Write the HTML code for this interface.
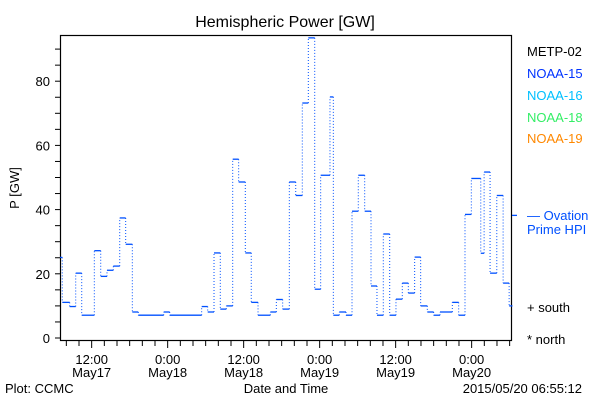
<!DOCTYPE html>
<html><head><meta charset="utf-8"><style>
body{margin:0;background:#fff;width:600px;height:400px;overflow:hidden}
svg{display:block;font-family:"Liberation Sans",sans-serif}
</style></head><body>
<svg id="chart" width="600" height="400">
<text x="285" y="27" font-size="16" text-anchor="middle">Hemispheric Power [GW]</text>
<rect x="60.5" y="35.5" width="451" height="305" fill="none" stroke="#000" stroke-width="1.2"/>
<g id="yaxis"></g>
<g id="xaxis"></g>
<g id="series"></g>
<text x="19" y="188" font-size="13" text-anchor="middle" transform="rotate(-90 19 188)">P [GW]</text>
<text x="5" y="393" font-size="13">Plot: CCMC</text>
<text x="286" y="393" font-size="13" text-anchor="middle">Date and Time</text>
<text x="582" y="393" font-size="13" text-anchor="end">2015/05/20 06:55:12</text>
<g font-size="13">
<text x="527" y="56" fill="#000">METP-02</text>
<text x="527" y="78" fill="#0033ff">NOAA-15</text>
<text x="527" y="100" fill="#00c0ff">NOAA-16</text>
<text x="527" y="122" fill="#33ee66">NOAA-18</text>
<text x="527" y="143" fill="#ff8800">NOAA-19</text>
<text x="527" y="220" fill="#0050ff">— Ovation</text>
<text x="527" y="234" fill="#0050ff">Prime HPI</text>
<text x="527" y="312" fill="#000">+ south</text>
<text x="527" y="344" fill="#000">* north</text>
</g>
</svg>
<script>
const boundaries=[0,0.36,1.53,2.48,3.43,5.42,6.43,7.42,8.42,9.43,10.37,11.42,12.36,16.37,17.32,22.37,23.32,24.32,25.31,26.26,27.27,28.21,29.26,30.2,31.27,33.21,34.16,35.16,36.21,37.22,38.26,39.21,40.22,41.16,42.63,43.16,44.1,45.16,46.11,47.1,48.11,49.11,50.05,51.05,52.06,53.05,54.05,55.0,56.0,56.95,58.0,59.0,60.0,61.95,62.95,63.95,64.95,66.44,66.97,67.91,68.97,69.97,70.92,71.45];
const values=[25.1,11.1,9.8,20.2,7.1,27.2,19.2,21.1,22.4,37.4,29.2,8.1,7.1,8.1,7.1,9.8,8.1,26.5,9.0,10.0,55.7,48.6,26.5,11.1,7.1,8.1,12.0,9.0,48.6,44.4,73.2,93.5,15.2,50.7,75.1,7.1,8.1,7.1,39.5,50.7,39.5,16.2,7.1,32.4,7.1,12.1,17.1,14.0,25.2,10.0,8.1,7.1,8.1,11.1,7.1,38.5,49.7,26.4,51.7,20.2,44.4,17.1,10.0];
const yTickLabels=[0,20,40,60,80];
const xTickHours=[5,17,29,41,53,65];
const xTickTimes=["12:00","0:00","12:00","0:00","12:00","0:00"];
const xTickDates=["May17","May18","May18","May19","May19","May20"];
const ovationValue=38.2;
const NS="http://www.w3.org/2000/svg";
const X=h=>60+h*6.333;
const Y=v=>338-v*3.21;
function mk(tag,attrs,parent){const e=document.createElementNS(NS,tag);for(const k in attrs)e.setAttribute(k,attrs[k]);parent.appendChild(e);return e;}
const ya=document.getElementById('yaxis'),xa=document.getElementById('xaxis'),sg=document.getElementById('series');
for(let v=0;v<=90;v+=5){
 const t=mk('line',{x1:55,x2:60.5,y1:Y(v),y2:Y(v),stroke:'#000','stroke-width':1},ya);
 
 
}
yTickLabels.forEach(v=>{
 const t=mk('text',{x:50,y:Y(v)+5,'font-size':13,'text-anchor':'end'},ya);t.textContent=v;
 
 
});
for(let h=1;h<=71;h+=2){
 const major=xTickHours.includes(h);
 const t=mk('line',{x1:X(h),x2:X(h),y1:341,y2:major?348:346,stroke:'#000','stroke-width':1},xa);
 
 
}
xTickHours.forEach((h,i)=>{
 const a=mk('text',{x:X(h),y:364,'font-size':13,'text-anchor':'middle'},xa);a.textContent=xTickTimes[i];
 
 
 const b=mk('text',{x:X(h),y:377,'font-size':13,'text-anchor':'middle'},xa);b.textContent=xTickDates[i];
 
 
});
values.forEach((v,i)=>{
 const s=mk('line',{x1:X(boundaries[i]),x2:X(boundaries[i+1]),y1:Y(v),y2:Y(v),stroke:'#0050ff','stroke-width':1.3},sg);
 
 
 if(i<values.length-1){
  const d=mk('line',{x1:X(boundaries[i+1]),x2:X(boundaries[i+1]),y1:Y(v),y2:Y(values[i+1]),stroke:'#0050ff','stroke-width':1,'stroke-dasharray':'1 2'},sg);
  
  
 }
});
const ov=mk('line',{x1:512,x2:517,y1:Y(ovationValue),y2:Y(ovationValue),stroke:'#0050ff','stroke-width':1.3},sg);


</script>
</body></html>
